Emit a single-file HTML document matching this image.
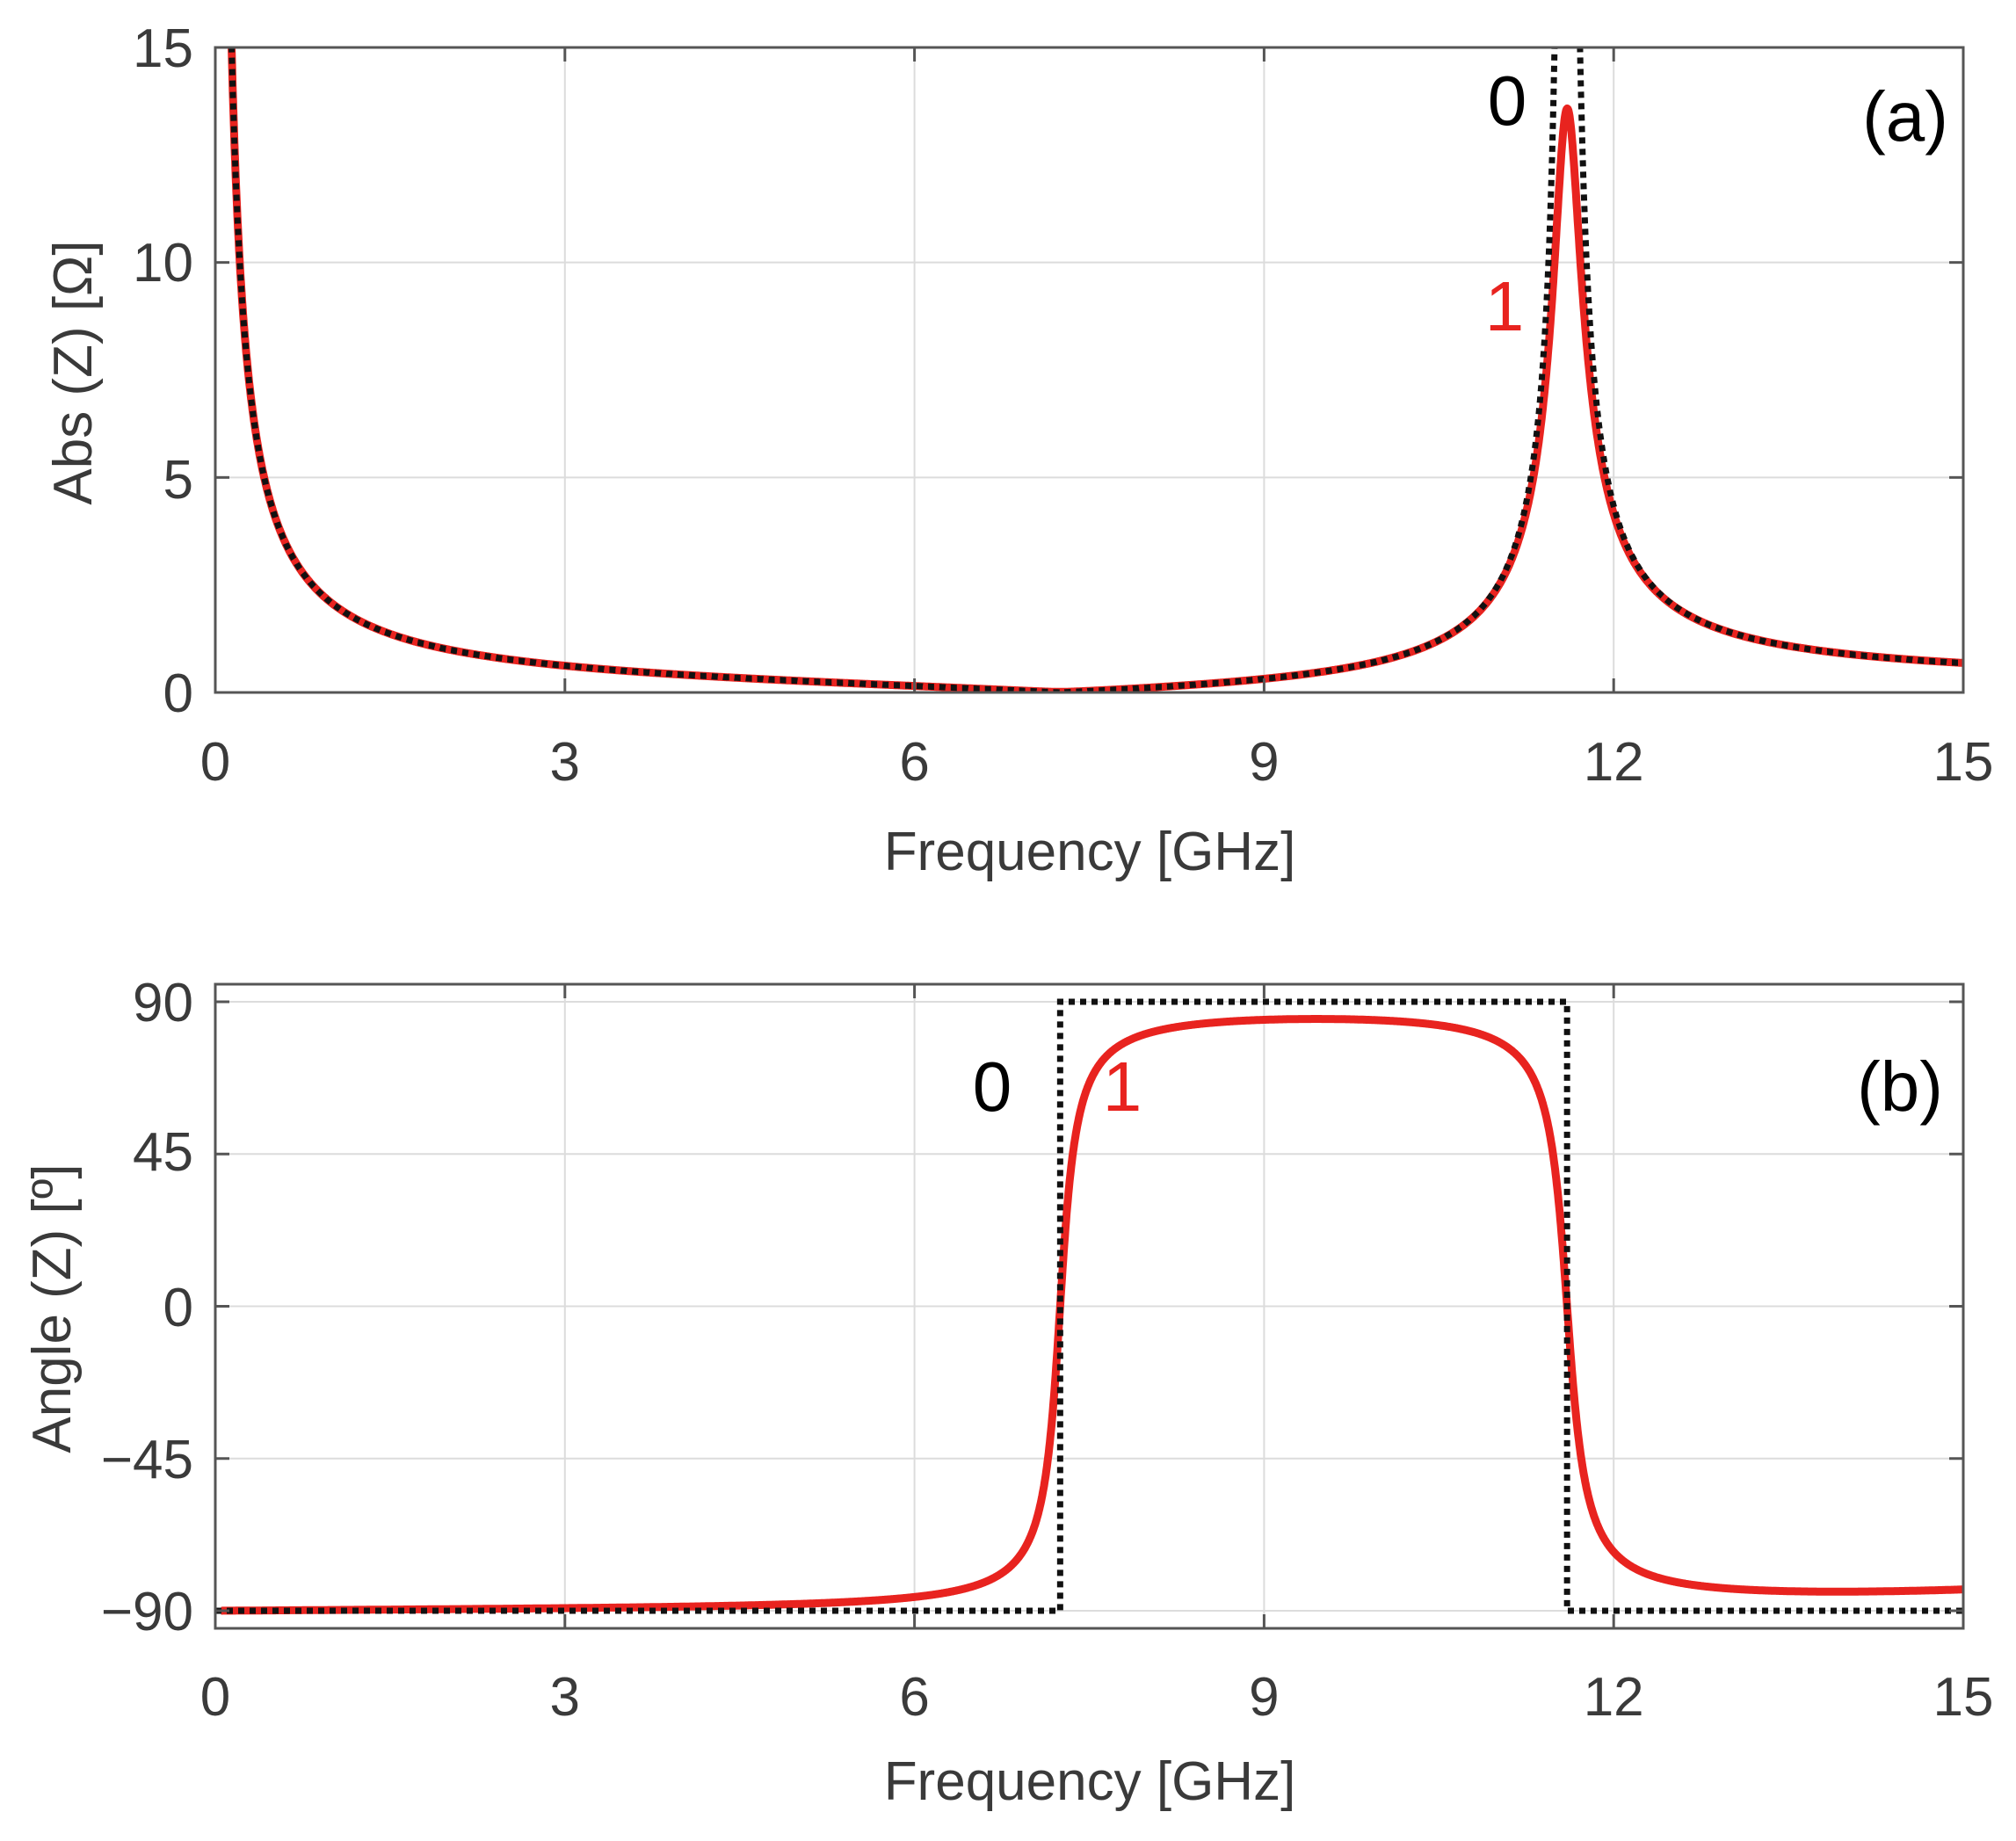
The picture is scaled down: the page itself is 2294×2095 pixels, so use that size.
<!DOCTYPE html>
<html><head><meta charset="utf-8"><style>
html,body{margin:0;padding:0;background:#fff;}
svg{display:block;}
.t{font-family:"Liberation Sans",sans-serif;font-size:62px;fill:#3a3a3a;}
.a{font-family:"Liberation Sans",sans-serif;font-size:80px;}
</style></head><body>
<svg id="s" width="2294" height="2095" viewBox="0 0 2294 2095" xmlns="http://www.w3.org/2000/svg">
<defs>
<clipPath id="c1"><rect x="245" y="54" width="1989" height="734"/></clipPath>
<clipPath id="c2"><rect x="245" y="1120" width="1989" height="733"/></clipPath>
</defs>
<g id="grid" stroke="#dcdcdc" stroke-width="2"></g>
<g clip-path="url(#c1)"><path id="r1" fill="none" stroke="#e8231f" stroke-width="9" stroke-linejoin="round"/><path id="b1" fill="none" stroke="#111" stroke-width="7" stroke-dasharray="7 6"/></g>
<g clip-path="url(#c2)"><path id="r2" fill="none" stroke="#e8231f" stroke-width="9" stroke-linejoin="round"/><path id="b2" fill="none" stroke="#111" stroke-width="7" stroke-dasharray="7 6"/></g>
<rect x="245" y="54" width="1989" height="734" fill="none" stroke="#555" stroke-width="3"/>
<rect x="245" y="1120" width="1989" height="733" fill="none" stroke="#555" stroke-width="3"/>
<g id="ticks" stroke="#555" stroke-width="3"></g>
<g class="t" text-anchor="end">
<text x="220" y="76">15</text><text x="220" y="320">10</text><text x="220" y="567">5</text><text x="220" y="810">0</text>
<text x="220" y="1162">90</text><text x="220" y="1332">45</text><text x="220" y="1509">0</text><text x="220" y="1682">−45</text><text x="220" y="1855">−90</text>
</g>
<g class="t" text-anchor="middle" id="xl"></g>
<text class="t" x="1240" y="990" text-anchor="middle">Frequency [GHz]</text>
<text class="t" x="1240" y="2048" text-anchor="middle">Frequency [GHz]</text>
<text class="t" transform="translate(104,424) rotate(-90)" text-anchor="middle">Abs (Z) [Ω]</text>
<text class="t" transform="translate(80,1489) rotate(-90)" text-anchor="middle">Angle (Z) [º]</text>
<text class="a" x="1715" y="142" text-anchor="middle" fill="#000">0</text>
<text class="a" x="1712" y="376" text-anchor="middle" fill="#e8231f">1</text>
<text class="a" x="2168" y="160" text-anchor="middle" fill="#000">(a)</text>
<text class="a" x="1129" y="1264" text-anchor="middle" fill="#000">0</text>
<text class="a" x="1277" y="1264" text-anchor="middle" fill="#e8231f">1</text>
<text class="a" x="2162" y="1264" text-anchor="middle" fill="#000">(b)</text>
</svg>
<script>
var X=function(f){return 245+f*1989/15;};
var Y1=function(v){return 788-v*734/15;};
var Y2=function(a){return 1486.5-a*3.85;};
var g=document.getElementById('grid'),tk=document.getElementById('ticks'),xl=document.getElementById('xl');
var ns='http://www.w3.org/2000/svg';
function ln(p,x1,y1,x2,y2){var l=document.createElementNS(ns,'line');l.setAttribute('x1',x1);l.setAttribute('y1',y1);l.setAttribute('x2',x2);l.setAttribute('y2',y2);p.appendChild(l);}
[3,6,9,12].forEach(function(f){var x=X(f);ln(g,x,54,x,788);ln(g,x,1120,x,1853);
ln(tk,x,788,x,772);ln(tk,x,54,x,70);ln(tk,x,1853,x,1837);ln(tk,x,1120,x,1136);});
[5,10].forEach(function(v){var y=Y1(v);ln(g,245,y,2234,y);ln(tk,245,y,261,y);ln(tk,2234,y,2218,y);});
[90,45,0,-45,-90].forEach(function(a){var y=Y2(a);ln(g,245,y,2234,y);ln(tk,245,y,261,y);ln(tk,2234,y,2218,y);});
[0,3,6,9,12,15].forEach(function(f){[888,1952].forEach(function(y){var t=document.createElementNS(ns,'text');t.setAttribute('x',X(f));t.setAttribute('y',y);t.textContent=f;xl.appendChild(t);});});
var A=2.1,f0=7.25,fp=11.6,Q=48;
function z(f,loss){var nr=1-f*f/(f0*f0);var dr=1-f*f/(fp*fp),di=loss?f/(fp*Q):0;
var d2=dr*dr+di*di;var kr=nr*dr/d2,ki=-nr*di/d2;
var R=loss?0.012*(1+3*Math.pow(f/15,4)):0;
var re=A/f*ki+R,im=-A/f*kr;return [re,im];}
var p1='',p2='',q1='';
for(var i=0;i<=3000;i++){var f=0.05+i*(14.95/3000);
var zr=z(f,true),zb=z(f,false);
var m=Math.min(Math.hypot(zr[0],zr[1]),40),mb=Math.min(Math.abs(zb[1]),40);
var ar=Math.atan2(zr[1],zr[0])*180/Math.PI;
p1+=(i?'L':'M')+X(f).toFixed(1)+' '+Y1(m).toFixed(1);
q1+=(i?'L':'M')+X(f).toFixed(1)+' '+Y1(mb).toFixed(1);
p2+=(i?'L':'M')+X(f).toFixed(1)+' '+Y2(ar).toFixed(1);}
document.getElementById('r1').setAttribute('d',p1);
document.getElementById('b1').setAttribute('d',q1);
document.getElementById('r2').setAttribute('d',p2);
var ya=Y2(-90),yb=Y2(90);
document.getElementById('b2').setAttribute('d','M'+X(0)+' '+ya+'L'+X(f0)+' '+ya+'L'+X(f0)+' '+yb+'L'+X(fp)+' '+yb+'L'+X(fp)+' '+ya+'L'+X(15)+' '+ya);
</script>
</body></html>
